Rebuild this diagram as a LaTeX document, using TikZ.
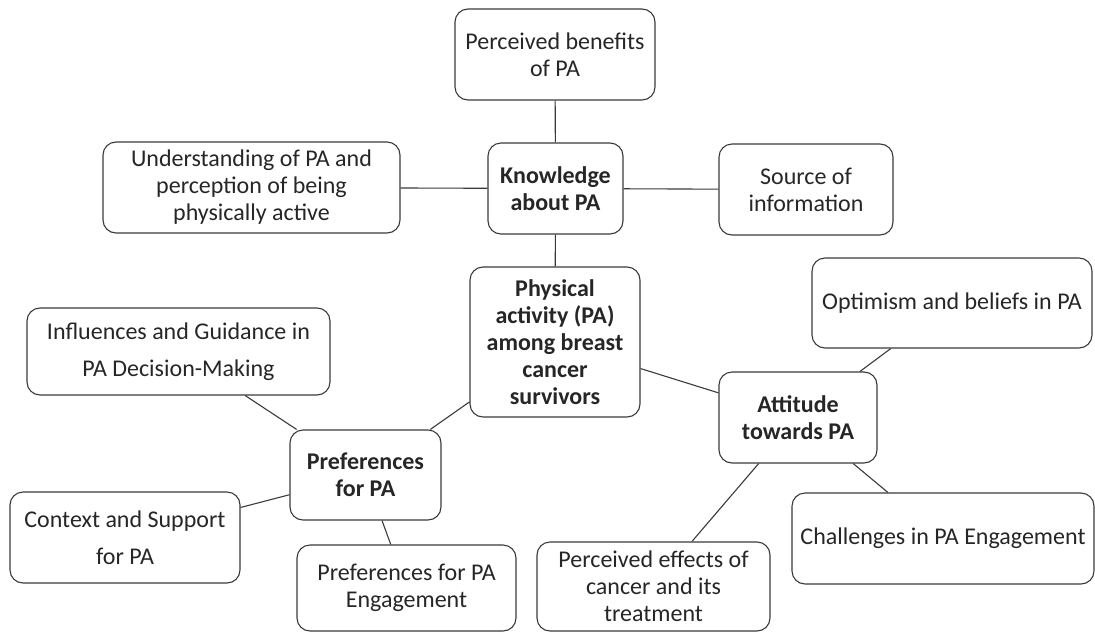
\documentclass[tikz,border=0pt]{standalone}
\usepackage{fontspec}
\setmainfont{Carlito}
\usetikzlibrary{positioning}
\definecolor{ink}{HTML}{262626}
\definecolor{edgegray}{HTML}{3A3A3A}
\tikzset{every node/.style={font=\fontsize{24}{27}\selectfont},
  box/.style={draw=edgegray,line width=1.1pt,rounded corners=13pt,align=center,text=ink,inner sep=0pt},
  hub/.style={box,font=\fontsize{24}{27}\selectfont\bfseries},
  airy/.style={box,font=\fontsize{24}{37.5}\selectfont},
  link/.style={draw=edgegray,line width=1.1pt}}

\begin{document}
\begin{tikzpicture}[x=1pt,y=-1pt]
\useasboundingbox (0,0) rectangle (1095,632);
% knowledge branch
\node[box,minimum width=200pt,minimum height=91pt] (benef) at (555,54.5) {Perceived benefits\\of PA};
\node[box,minimum width=297pt,minimum height=91pt] (underst) at (251.5,187.5) {Understanding of PA and\\perception of being\\physically active};
\node[hub,minimum width=135pt,minimum height=91pt] (know) at (555.5,188.5) {Knowledge\\about PA};
\node[box,minimum width=174pt,minimum height=91pt] (source) at (806,189.5) {Source of\\information};
% centre
\node[hub,minimum width=170pt,minimum height=150pt] (pa) at (555,342) {Physical\\activity (PA)\\among breast\\cancer\\survivors};
% attitude branch
\node[hub,minimum width=158pt,minimum height=91pt] (attit) at (798,417.5) {Attitude\\towards PA};
\node[box,minimum width=280pt,minimum height=90pt] (optim) at (952,303) {Optimism and beliefs in PA};
\node[box,minimum width=302pt,minimum height=91pt] (chall) at (943,538.5) {Challenges in PA Engagement};
\node[box,minimum width=233pt,minimum height=89pt] (effects) at (653.5,586.5) {Perceived effects of\\cancer and its\\treatment};
% preferences branch
\node[hub,minimum width=151pt,minimum height=90pt] (prefs) at (365.5,475) {Preferences\\for PA};
\node[airy,minimum width=303pt,minimum height=87pt] (influ) at (178.5,351.5) {Influences and Guidance in\\PA Decision-Making};
\node[airy,minimum width=230pt,minimum height=91pt] (context) at (125,537.5) {Context and Support\\for PA};
\node[box,minimum width=219pt,minimum height=86pt] (prefeng) at (406.5,588) {Preferences for PA\\Engagement};
% links
\draw[link] (benef)--(know); \draw[link] (underst)--(know);
\draw[link] (know)--(source); \draw[link] (know)--(pa);
\draw[link] (pa)--(prefs); \draw[link] (pa)--(attit);
\draw[link] (influ)--(prefs); \draw[link] (context)--(prefs);
\draw[link] (prefs)--(prefeng);
\draw[link] (attit)--(optim); \draw[link] (attit)--(chall);
\draw[link] (attit)--(effects);
\end{tikzpicture}
\end{document}
